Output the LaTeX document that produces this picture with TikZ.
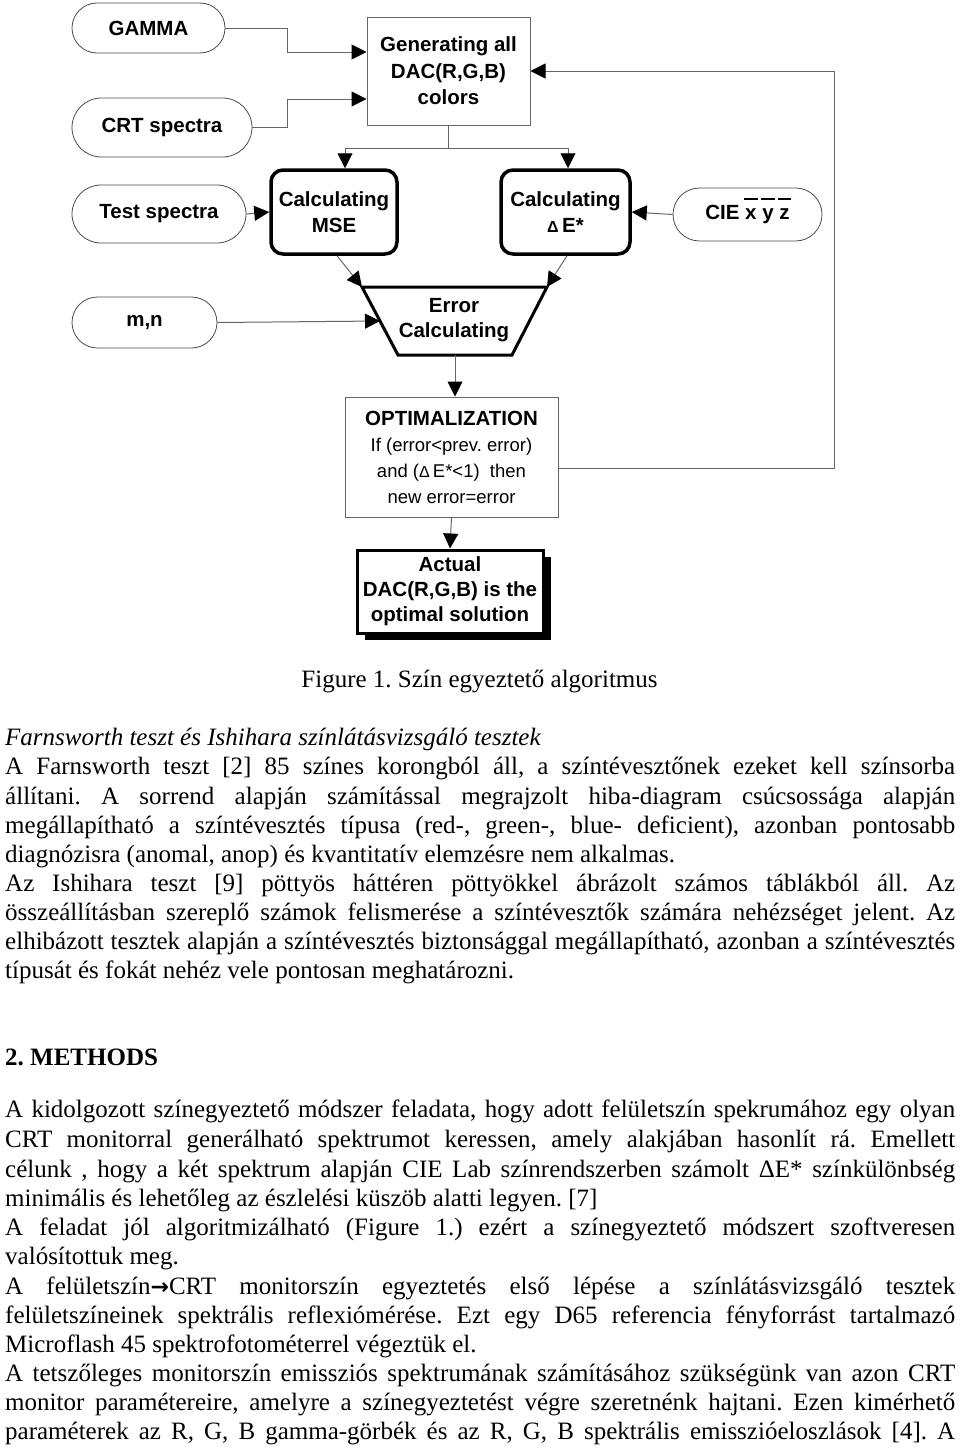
\documentclass[tikz,border=0pt]{standalone}
\usepackage{fontspec}
\setmainfont{Liberation Serif}
\newfontfamily\arial{Liberation Sans}
\newfontfamily\djv{DejaVu Sans}
\usetikzlibrary{arrows.meta,shadows,calc,shapes.misc}
\newcommand\ovl[1]{\setbox0\hbox{#1}\rlap{\hspace{-1pt}\smash{\raisebox{20pt}{\rule{\dimexpr\wd0+2pt\relax}{1.3pt}}}}\box0\relax}
\newcommand\dlt{{\fontsize{16}{16}\selectfont Δ}}
\frenchspacing
\begin{document}
\begin{tikzpicture}[x=1pt,y=-1pt,
  conn/.style={draw=black!60, line width=1pt, -{Triangle[length=15pt,width=15pt,fill=black,color=black]}},
  line/.style={draw=black!60, line width=1pt},
  term/.style={rounded rectangle, draw=black!70, line width=0.8pt, inner sep=0pt,
     font=\arial\bfseries\fontsize{20.5}{26}\selectfont},
  proc/.style={rectangle, draw=black!60, line width=1pt, inner sep=0pt, align=center,
     font=\arial\bfseries\fontsize{20.5}{26.5}\selectfont},
  calcbox/.style={rectangle, rounded corners=12pt, draw=black, line width=3.5pt, inner sep=0pt, align=center,
     font=\arial\bfseries\fontsize{20.5}{26}\selectfont},
  body/.style={anchor=base west, inner sep=0pt, font=\fontsize{25}{29}\selectfont}]
\useasboundingbox (0,0) rectangle (960,1448);
\fill[white] (0,0) rectangle (960,1448);

% terminals
\node[term, minimum width=153pt, minimum height=50pt] (gamma) at (148.5,28) {GAMMA};
\node[term, minimum width=180pt, minimum height=59pt] (crt) at (162,127.5) {CRT spectra};
\node[term, minimum width=174pt, minimum height=58pt] (test) at (159,214) {Test spectra};
\node[term, minimum width=149pt, minimum height=53pt] (cie) at (747.5,214.5) {CIE \ovl{x} \ovl{y} \ovl{z}};
\node[term, minimum width=145pt, minimum height=51pt] (mn) at (144.5,322.5) {m,n};

% processes
\node[proc, minimum width=163pt, minimum height=108pt] (gen) at (448.5,71) {Generating all\\DAC(R,G,B)\\colors};
\node[calcbox, minimum width=126pt, minimum height=84pt] (mse) at (334,212) {Calculating\\MSE};
\node[calcbox, minimum width=129pt, minimum height=84pt] (de) at (565.5,212) {Calculating\\\dlt\,E*};

% trapezoid
\coordinate (tl) at (362,287);
\coordinate (tr) at (547,287);
\coordinate (br) at (512,355);
\coordinate (bl) at (398,355);
\draw[line width=3pt, line join=miter] (tl)--(tr)--(br)--(bl)--cycle;
\node[inner sep=0pt, align=center, font=\arial\bfseries\fontsize{20.5}{25}\selectfont] (err) at (454,320.5) {Error\\Calculating};
\coordinate (ml) at ($(tl)!0.5!(bl)$);
\coordinate (bc) at ($(bl)!0.5!(br)$);

\node[proc, minimum width=213pt, minimum height=120pt, font=\arial\fontsize{18.5}{26}\selectfont] (opt) at (451.5,457)
 {{\bfseries\fontsize{20.5}{26}\selectfont OPTIMALIZATION}\\If (error<prev. error)\\and (\dlt\,E*<1)\ \ then\\new error=error};

\node[rectangle, draw=black, line width=3pt, inner sep=0pt, align=center, fill=white,
  minimum width=186pt, minimum height=83pt,
  drop shadow={shadow xshift=8pt, shadow yshift=-7pt, fill=black, opacity=1},
  font=\arial\bfseries\fontsize{20.5}{25}\selectfont] (act) at (450,591.5)
 {Actual\\DAC(R,G,B) is the\\optimal solution};

% connectors
\draw[conn] (gamma.east) -- ++(62,0) |- ([yshift=19pt]gen.west);
\draw[conn] (crt.east) -- ++(35,0) |- ([yshift=-28pt]gen.west);
\draw[line] (gen.south) -- ++(0,23) coordinate (split);
\draw[conn] (split) -| ([xshift=11pt]mse.north);
\draw[conn] (split) -| ([xshift=2.5pt]de.north);
\draw[conn] (test.east) -- (mse.west);
\draw[conn] (cie.west) -- (de.east);
\draw[conn] ([xshift=3pt]mse.south) -- (tl);
\draw[conn] ([xshift=1.5pt]de.south) -- (tr);
\draw[conn] (mn.east) -- (ml);
\draw[conn] (bc) -- (bc |- opt.north);
\draw[conn] (opt.south) -- (act.north);
\draw[conn] ([yshift=-11pt]opt.east) -- ++(276,0) |- (gen.east);

% caption and text
\node[anchor=base, inner sep=0pt, font=\fontsize{25}{29}\selectfont] (cap) at (479.5,687) {Figure 1. Szín egyeztető algoritmus};
\node[body] (t0) at (5,745) {\itshape Farnsworth teszt és Ishihara színlátásvizsgáló tesztek};
\node[body] (t1) at (5,774) {\makebox[950pt][s]{A Farnsworth teszt [2] 85 színes korongból áll, a színtévesztőnek ezeket kell színsorba}};
\node[body] (t2) at (5,804) {\makebox[950pt][s]{állítani. A sorrend alapján számítással megrajzolt hiba-diagram csúcsossága alapján}};
\node[body] (t3) at (5,833) {\makebox[950pt][s]{megállapítható a színtévesztés típusa (red-, green-, blue- deficient), azonban pontosabb}};
\node[body] (t4) at (5,862) {diagnózisra (anomal, anop) és kvantitatív elemzésre nem alkalmas.};
\node[body] (t5) at (5,891) {\makebox[950pt][s]{Az Ishihara teszt [9] pöttyös háttéren pöttyökkel ábrázolt számos táblákból áll. Az}};
\node[body] (t6) at (5,920) {\makebox[950pt][s]{összeállításban szereplő számok felismerése a színtévesztők számára nehézséget jelent. Az}};
\node[body] (t7) at (5,949) {\makebox[950pt][s]{elhibázott tesztek alapján a színtévesztés biztonsággal megállapítható, azonban a színtévesztés}};
\node[body] (t8) at (5,978) {típusát és fokát nehéz vele pontosan meghatározni.};
\node[body] (h2) at (5,1065) {\bfseries 2. METHODS};
\node[body] (m1) at (5,1117) {\makebox[950pt][s]{A kidolgozott színegyeztető módszer feladata, hogy adott felületszín spekrumához egy olyan}};
\node[body] (m2) at (5,1147) {\makebox[950pt][s]{CRT monitorral generálható spektrumot keressen, amely alakjában hasonlít rá. Emellett}};
\node[body] (m3) at (5,1177) {\makebox[950pt][s]{célunk , hogy a két spektrum alapján CIE Lab színrendszerben számolt ΔE* színkülönbség}};
\node[body] (m4) at (5,1206) {minimális és lehetőleg az észlelési küszöb alatti legyen. [7]};
\node[body] (m5) at (5,1235) {\makebox[950pt][s]{A feladat jól algoritmizálható (Figure 1.) ezért a színegyeztető módszert szoftveresen}};
\node[body] (m6) at (5,1264) {valósítottuk meg.};
\node[body] (m7) at (5,1294) {\makebox[950pt][s]{A felületszín{\djv\bfseries\fontsize{22}{29}\selectfont →}CRT monitorszín egyeztetés első lépése a színlátásvizsgáló tesztek}};
\node[body] (m8) at (5,1323) {\makebox[950pt][s]{felületszíneinek spektrális reflexiómérése. Ezt egy D65 referencia fényforrást tartalmazó}};
\node[body] (m9) at (5,1352) {Microflash 45 spektrofotométerrel végeztük el.};
\node[body] (m10) at (5,1381) {\makebox[950pt][s]{A tetszőleges monitorszín emissziós spektrumának számításához szükségünk van azon CRT}};
\node[body] (m11) at (5,1410) {\makebox[950pt][s]{monitor paramétereire, amelyre a színegyeztetést végre szeretnénk hajtani. Ezen kimérhető}};
\node[body] (m12) at (5,1439) {\makebox[950pt][s]{paraméterek az R, G, B gamma-görbék és az R, G, B spektrális emisszióeloszlások [4]. A}};
\end{tikzpicture}
\end{document}
